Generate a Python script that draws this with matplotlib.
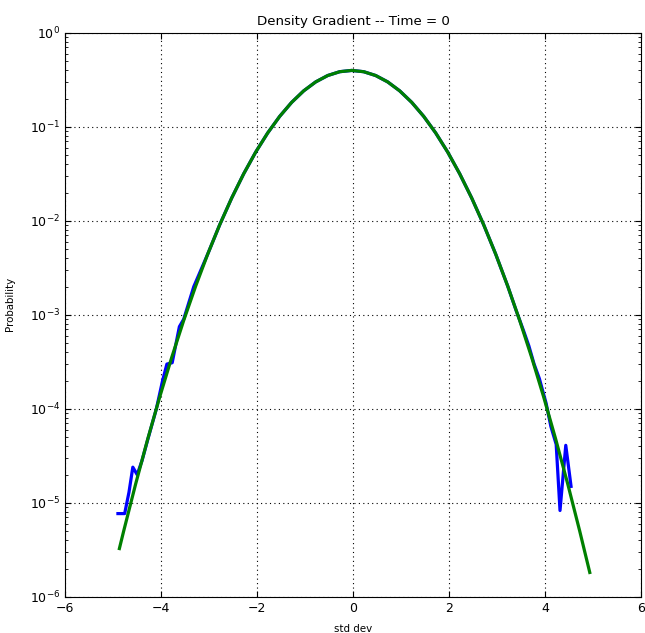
import numpy as np
import matplotlib
matplotlib.use("Agg")
import matplotlib.pyplot as plt

# histogram of the data (blue)
hist_x = [-4.90, -4.76, -4.67, -4.59, -4.50, -4.40, -4.28, -4.10, -3.97, -3.88,
          -3.77, -3.62, -3.53, -3.32, -3.03, -2.78, -2.53, -2.28, -2.03, -1.78,
          -1.53, -1.28, -1.03, -0.78, -0.53, -0.28, -0.03, 0.22, 0.47, 0.72,
          0.97, 1.22, 1.47, 1.72, 1.97, 2.22, 2.47, 2.72, 2.97, 3.22,
          3.40, 3.55, 3.66, 3.77, 3.88, 4.02, 4.12, 4.23, 4.31, 4.43, 4.54]
hist_p = [7.7e-6, 7.7e-6, 1.3e-5, 2.4e-5, 2.0e-5, 2.8e-5, 4.7e-5, 1.0e-4, 2.0e-4, 3.0e-4,
          3.1e-4, 7.5e-4, 9.0e-4, 2.0e-3, 4.432e-3, 9.094e-3, 0.01753, 0.03174, 0.05399, 0.08628,
          0.12952, 0.18265, 0.24197, 0.30114, 0.35207, 0.38667, 0.39894, 0.38667, 0.35207, 0.30114,
          0.24197, 0.18265, 0.12952, 0.08628, 0.05399, 0.03174, 0.01753, 9.094e-3, 4.432e-3, 2.029e-3,
          1.1e-3, 6.8e-4, 4.7e-4, 3.0e-4, 2.1e-4, 1.15e-4, 6.5e-5, 4.2e-5, 8.3e-6, 4.1e-5, 1.5e-5]

# gaussian fit (green)
fit_x = [-4.87, -4.78, -4.53, -4.28, -4.03, -3.78, -3.53, -3.28, -3.03, -2.78,
         -2.53, -2.28, -2.03, -1.78, -1.53, -1.28, -1.03, -0.78, -0.53, -0.28,
         -0.03, 0.22, 0.47, 0.72, 0.97, 1.22, 1.47, 1.72, 1.97, 2.22,
         2.47, 2.72, 2.97, 3.22, 3.47, 3.72, 3.97, 4.22, 4.47, 4.72, 4.93]
fit_p = [3.27e-6, 5.03e-6, 1.598e-5, 4.77e-5, 1.338e-4, 3.526e-4, 8.727e-4, 2.029e-3, 4.432e-3, 9.094e-3,
         0.01753, 0.03174, 0.05399, 0.08628, 0.12952, 0.18265, 0.24197, 0.30114, 0.35207, 0.38667,
         0.39894, 0.38667, 0.35207, 0.30114, 0.24197, 0.18265, 0.12952, 0.08628, 0.05399, 0.03174,
         0.01753, 9.094e-3, 4.432e-3, 2.029e-3, 8.727e-4, 3.526e-4, 1.338e-4, 4.77e-5, 1.598e-5, 5.03e-6, 1.82e-6]

fig = plt.figure(figsize=(6.45, 6.33), dpi=100)
ax = fig.add_axes([0.101, 0.057, 0.893, 0.891])

ax.semilogy(hist_x, hist_p, color="blue", lw=2.3)
ax.semilogy(fit_x, fit_p, color="green", lw=2.3)

ax.set_xlim(-6, 6)
ax.set_ylim(1e-6, 1)
ax.grid(True, which="major", color="black", linestyle=(0, (1, 3)), linewidth=0.8)

ax.tick_params(which="both", direction="in", top=True, right=True, labelsize=9)
ax.tick_params(which="major", length=4)
ax.tick_params(which="minor", length=2)
ax.tick_params(axis="x", pad=4)

ax.set_title("Density Gradient -- Time = 0", fontsize=9.6)
ax.set_xlabel("std dev", fontsize=7.4)
ax.set_ylabel("Probability", fontsize=7.4)
ax.xaxis.set_label_coords(0.5, -0.048)
ax.yaxis.set_label_coords(-0.087, 0.52)

fig.savefig("out.png", dpi=100)
